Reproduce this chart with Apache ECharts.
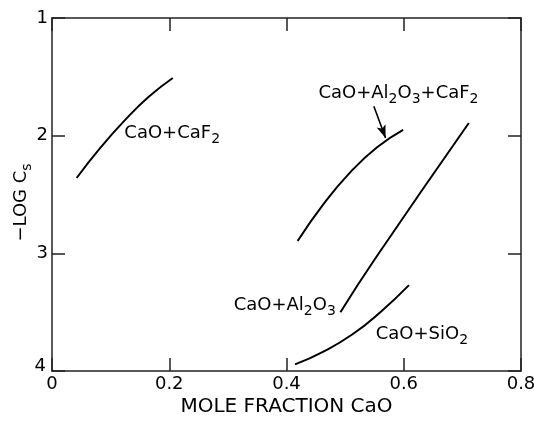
<!DOCTYPE html>
<html>
<head>
<meta charset="utf-8">
<script src="https://cdn.jsdelivr.net/npm/echarts@6/dist/echarts.min.js"></script>
<style>
html,body{margin:0;padding:0;background:#fff;}
#chart{width:534px;height:421px;}
</style>
</head>
<body>
<div id="chart"></div>
<script>
// ---- data ----
const xTicks = [0, 0.2, 0.4, 0.6, 0.8];
const yTicks = [1, 2, 3, 4];

const caoCaf2 = [[0.042, 2.36], [0.083, 2.10], [0.124, 1.87], [0.165, 1.67], [0.206, 1.51]];
const caoAl2o3Caf2 = [[0.419, 2.895], [0.464, 2.575], [0.509, 2.31], [0.554, 2.10], [0.599, 1.95]];
const caoAl2o3 = [[0.492, 3.50], [0.552, 3.04], [0.711, 1.892]];
const caoSio2 = [[0.4145, 3.944], [0.463, 3.835], [0.512, 3.69], [0.560, 3.50], [0.609, 3.27]];

const arrowFrom = [0.549, 1.75];
const arrowTo = [0.569, 2.02];

const labelTexts = ['{n|CaO+CaF}{s|2}', '{n|CaO+Al}{s|2}{n|O}{s|3}{n|+CaF}{s|2}', '{n|CaO+Al}{s|2}{n|O}{s|3}', '{n|CaO+SiO}{s|2}'];
const labelX = [0.205, 0.591, 0.397, 0.631];
const labelY = [1.99, 1.65, 3.45, 3.70];

const xTitle = 'MOLE FRACTION CaO';
const yTitle = '{n|\u2212LOG C}{s|s}';

// ---- chart ----
const FONT = 'DejaVu Sans';
const INK = '#000';
const chart = echarts.init(document.getElementById('chart'), null, {renderer: 'canvas'});

const richSub = {
  n: {fontFamily: FONT, fontSize: 18, color: INK, lineHeight: 20, verticalAlign: 'top', textBorderWidth: 0},
  s: {fontFamily: FONT, fontSize: 14, color: INK, lineHeight: 14, verticalAlign: 'top', padding: [8, 0, 0, 0], textBorderWidth: 0}
};

const axisLine = {show: true, onZero: false, lineStyle: {color: '#222', width: 1.5}};
const tickStyle = {show: true, inside: true, length: 13, lineStyle: {color: '#222', width: 1.5}};

function curve(name, data) {
  return {
    name: name, type: 'line', data: data, smooth: 0.5, showSymbol: false, symbol: 'none',
    lineStyle: {color: INK, width: 2}, silent: true, z: 3
  };
}

const option = {
  animation: false,
  backgroundColor: '#fff',
  grid: {left: 52, right: 13, top: 18, bottom: 50, containLabel: false, outerBoundsMode: 'none'},
  xAxis: [{
    type: 'value', min: 0, max: 0.8, interval: 0.2, position: 'bottom',
    axisLine: axisLine, axisTick: tickStyle, splitLine: {show: false},
    axisLabel: {margin: 4, fontFamily: FONT, fontSize: 18, color: INK,
      formatter: v => (v === 0 ? '0' : String(+v.toFixed(1)))},
    name: xTitle, nameLocation: 'middle', nameGap: 26, nameMoveOverlap: false,
    nameTextStyle: {fontFamily: FONT, fontSize: 20, color: INK}
  }, {
    type: 'value', min: 0, max: 0.8, interval: 0.2, position: 'top',
    axisLine: axisLine, axisTick: tickStyle, axisLabel: {show: false}, splitLine: {show: false}
  }],
  yAxis: [{
    type: 'value', min: 1, max: 4, interval: 1, inverse: true, position: 'left',
    axisLine: axisLine, axisTick: tickStyle, splitLine: {show: false},
    axisLabel: {margin: 4, fontFamily: FONT, fontSize: 18, color: INK,
      formatter: v => (v === 4 ? '{b|4}' : String(v)),
      rich: {b: {fontFamily: FONT, fontSize: 18, color: INK, padding: [0, 2, 10, 0]}}},
    name: yTitle, nameLocation: 'middle', nameGap: 20, nameRotate: 90, nameMoveOverlap: false,
    nameTextStyle: {rich: richSub, padding: [0, 16, 0, 0]}
  }, {
    type: 'value', min: 1, max: 4, interval: 1, inverse: true, position: 'right',
    axisLine: axisLine, axisTick: tickStyle, axisLabel: {show: false}, splitLine: {show: false}
  }],
  series: [
    curve('CaO+CaF2', caoCaf2),
    Object.assign(curve('CaO+Al2O3+CaF2', caoAl2o3Caf2), {
      markLine: {
        silent: true, symbol: ['none', 'arrow'], symbolSize: [7, 13],
        lineStyle: {color: INK, width: 1.6, type: 'solid'}, label: {show: false},
        data: [[{coord: arrowFrom}, {coord: arrowTo}]]
      }
    }),
    curve('CaO+Al2O3', caoAl2o3),
    curve('CaO+SiO2', caoSio2),
    {
      name: 'labels', type: 'scatter', symbolSize: 0, silent: true, z: 5,
      itemStyle: {color: INK},
      data: labelX.map((x, i) => ({value: [x, labelY[i]], label: {formatter: labelTexts[i]}})),
      label: {show: true, position: 'inside', rich: richSub, color: INK, textBorderWidth: 0, opacity: 1}
    }
  ]
};
chart.setOption(option);
</script>
</body>
</html>
